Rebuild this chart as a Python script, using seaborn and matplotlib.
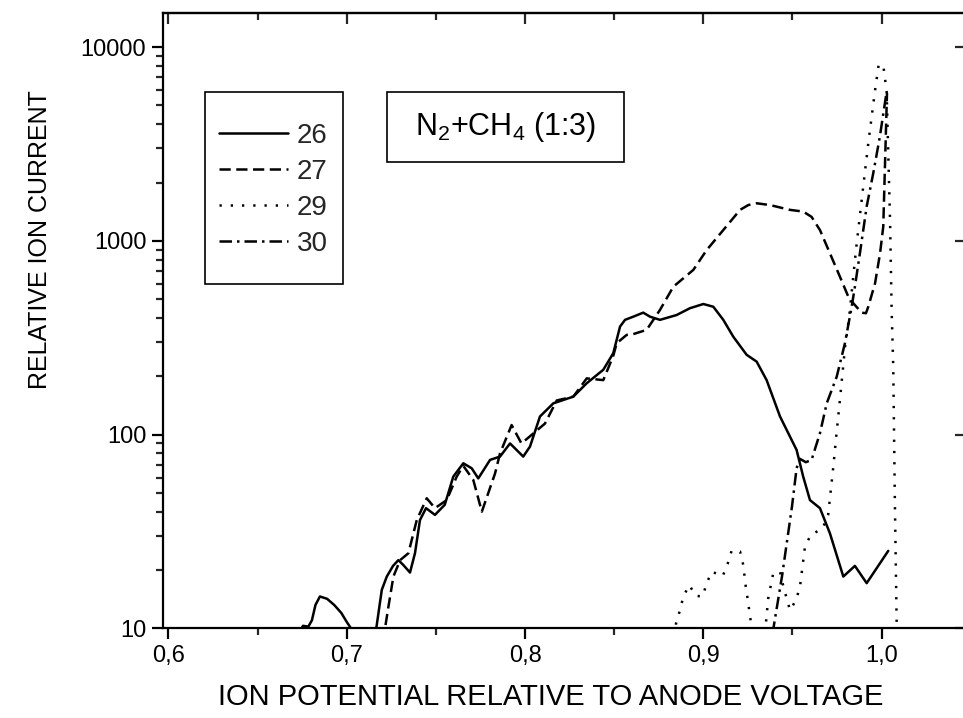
import numpy as np
import pandas as pd
import matplotlib
matplotlib.use("Agg")
import matplotlib.pyplot as plt
import seaborn as sns
from matplotlib.ticker import MultipleLocator, LogLocator, FuncFormatter, NullLocator, NullFormatter
from matplotlib.patches import Rectangle

# ---- data ----
x26 = [0.672, 0.6755, 0.6785, 0.6805, 0.6825, 0.685, 0.689, 0.693, 0.697, 0.700, 0.7024, 0.709,
       0.7166, 0.7197, 0.7225, 0.726, 0.729, 0.7318, 0.7355, 0.7383, 0.7411, 0.7445, 0.7495, 0.755,
       0.7598, 0.7654, 0.7701, 0.7738, 0.7804, 0.786, 0.7916, 0.799, 0.8028, 0.8084, 0.8159, 0.8271,
       0.8346, 0.8439, 0.8495, 0.8533, 0.8561, 0.8607, 0.8663, 0.8701, 0.8757, 0.885, 0.8925, 0.9,
       0.9056, 0.9112, 0.9168, 0.9243, 0.9299, 0.9355, 0.943, 0.9523, 0.956, 0.9598, 0.9654, 0.971,
       0.9785, 0.985, 0.9916, 1.0037]
y26 = [9.0, 10.3, 10.2, 11.0, 13.2, 14.6, 14.2, 13.2, 12.0, 10.8, 10.0, 6.0,
       10.0, 15.8, 18.5, 21.0, 22.5, 21.2, 19.4, 24.4, 36.2, 41.7, 38.5, 43.4,
       60.7, 71.1, 67.0, 59.4, 74, 77, 90, 77, 86.7, 124, 145, 157,
       184, 216, 263, 361, 391, 406, 426, 406, 391, 414, 449, 472,
       457, 391, 320, 258, 238, 191, 124, 83.3, 60.7, 45.9, 41.7, 30.9,
       18.5, 21.0, 17.1, 25.1]

x27 = [0.7195, 0.7215, 0.7234, 0.7262, 0.730, 0.7346, 0.7393, 0.7449, 0.7495, 0.7561, 0.7617,
       0.7654, 0.771, 0.7758, 0.7832, 0.786, 0.7925, 0.798, 0.8028, 0.8112, 0.8178, 0.8271, 0.8346,
       0.8439, 0.8495, 0.8514, 0.857, 0.8607, 0.8682, 0.8757, 0.8832, 0.8944, 0.9019, 0.9112, 0.9206,
       0.9252, 0.9299, 0.9374, 0.9486, 0.956, 0.9607, 0.9654, 0.971, 0.9766, 0.9813, 0.9841, 0.9888,
       0.9912, 0.9925, 0.9963, 0.9991, 1.0009, 1.0030]
y27 = [7.0, 10.0, 12.9, 18.5, 22.5, 24.4, 36.2, 46.9, 41.7, 45.9, 60.7,
       69.0, 58.3, 40.0, 63.0, 80.0, 112, 90, 98, 114, 150, 157, 195,
       191, 255, 296, 327, 330, 347, 440, 580, 708, 897, 1137, 1445,
       1530, 1563, 1530, 1445, 1416, 1330, 1137, 862, 653, 515, 476, 426,
       423, 457, 604, 862, 1184, 5800]

x29 = [0.8835, 0.8847, 0.8869, 0.8888, 0.8921, 0.8959, 0.8996, 0.9019, 0.9047, 0.9109, 0.9137,
       0.9159, 0.9206, 0.9224, 0.9238, 0.9252, 0.9262, 0.930, 0.935, 0.9364, 0.9392, 0.943, 0.9449,
       0.9486, 0.952, 0.9542, 0.957, 0.9602, 0.9669, 0.970, 0.9729, 0.9747, 0.9766, 0.9795, 0.9818,
       0.9856, 0.9888, 0.9925, 0.9962, 0.9983, 1.0009, 1.0028, 1.0037, 1.0047, 1.0056, 1.0065, 1.0074,
       1.0084, 1.0090]
y29 = [8.0, 10.6, 12.4, 14.6, 16.7, 14.7, 14.6, 17.1, 19.6, 18.6, 21.6,
       25.2, 24.9, 21.2, 16.4, 13.5, 11.5, 7.0, 10.4, 14.3, 19.2, 19.6, 16.4,
       12.4, 14.0, 16.4, 26.4, 30.3, 32.8, 38.5, 68.3, 101.6, 151, 285, 406,
       897, 1625, 3190, 5890, 8080, 8080, 5890, 2830, 1282, 440, 224, 46,
       10.9, 7.0]

x30 = [0.936, 0.9393, 0.9441, 0.9497, 0.9523, 0.9541, 0.9575, 0.9607, 0.9654, 0.9692, 0.9748,
       0.9794, 0.9832, 0.985, 0.9878, 0.9916, 0.9953, 0.999, 1.0018, 1.0028]
y30 = [7.0, 10.0, 18.5, 42.4, 67.0, 75.0, 72.0, 74.0, 101.6, 145, 199,
       296, 457, 580, 862, 1504, 2236, 3452, 5130, 5890]

series_names = ["26", "27", "29", "30"]
x_ticks = [0.6, 0.7, 0.8, 0.9, 1.0]
y_ticks = [10, 100, 1000, 10000]

frames = []
for name, xs, ys in zip(series_names, [x26, x27, x29, x30], [y26, y27, y29, y30]):
    assert len(xs) == len(ys), name
    frames.append(pd.DataFrame({"x": xs, "y": ys, "mass": name}))
df = pd.concat(frames, ignore_index=True)

# ---- style ----
sns.set_style("white")
plt.rcParams["font.family"] = ["Liberation Sans", "DejaVu Sans"]
plt.rcParams["mathtext.fontset"] = "custom"
plt.rcParams["mathtext.rm"] = "Liberation Sans"
plt.rcParams["mathtext.it"] = "Liberation Sans"
plt.rcParams["mathtext.sf"] = "Liberation Sans"

W, H = 963, 718
fig = plt.figure(figsize=(W / 100, H / 100), dpi=100)
fig.patch.set_facecolor("white")

ax_l, ax_r, ax_t, ax_b = 163, 966, 13, 628.3
ax = fig.add_axes([ax_l / W, (H - ax_b) / H, (ax_r - ax_l) / W, (ax_b - ax_t) / H])
ax.set_facecolor("white")

dashes = {"26": "", "27": (4.5, 2.2), "29": (0.9, 3.6), "30": (5.0, 2.0, 1.0, 2.0)}
sns.lineplot(data=df, x="x", y="y", style="mass", dashes=dashes, color="black",
             linewidth=1.8, estimator=None, sort=False, ax=ax, legend=True)

ax.set_yscale("log")
ax.set_xlim(0.597, 1.0473)
ax.set_ylim(10, 15000)

for s in ax.spines.values():
    s.set_linewidth(1.6)
    s.set_color("black")

ax.set_xticks(x_ticks)
ax.xaxis.set_minor_locator(MultipleLocator(0.05))
ax.xaxis.set_major_formatter(FuncFormatter(lambda v, p: f"{v:.1f}".replace(".", ",")))
ax.set_yticks(y_ticks)
ax.yaxis.set_major_formatter(FuncFormatter(lambda v, p: f"{v:.0f}"))
ax.yaxis.set_minor_locator(LogLocator(base=10, subs=np.arange(2, 10)))
ax.yaxis.set_minor_formatter(NullFormatter())
ax.tick_params(axis="both", which="major", direction="out", length=8, width=1.6,
               labelsize=17, pad=4, colors="black", bottom=True, left=True, top=False, right=False)
ax.tick_params(axis="both", which="minor", direction="out", length=5, width=1.6,
               bottom=True, left=True, top=False, right=False)
ax.set_xlabel("")
ax.set_ylabel("")

# top / right axes with inward ticks, no labels
secx = ax.secondary_xaxis("top")
secx.xaxis.set_major_locator(MultipleLocator(0.1))
secx.xaxis.set_minor_locator(MultipleLocator(0.05))
secx.tick_params(axis="x", which="major", direction="in", length=8, width=1.6, labeltop=False, top=True)
secx.tick_params(axis="x", which="minor", direction="in", length=5, width=1.6, top=True)
secx.spines["top"].set_linewidth(1.6)

secy = ax.secondary_yaxis("right")
secy.set_yticks(y_ticks)
secy.yaxis.set_minor_locator(NullLocator())
secy.tick_params(axis="y", which="major", direction="in", length=8, width=1.6, labelright=False, right=True)
secy.spines["right"].set_linewidth(1.6)

# axis titles
fig.text(551 / W, (H - 697) / H, "ION POTENTIAL RELATIVE TO ANODE VOLTAGE",
         ha="center", va="center", fontsize=21, color="black")
fig.text(40 / W, (H - 240) / H, "RELATIVE ION CURRENT", rotation=90,
         ha="center", va="center", fontsize=18, color="black")

# legend
handles, labels = ax.get_legend_handles_labels()
old = ax.get_legend()
if old is not None:
    old.remove()
leg = fig.legend(handles, labels, loc="upper left", bbox_to_anchor=(219 / W, (H - 123) / H),
                 frameon=False, fontsize=20, handlelength=2.5, handletextpad=0.3,
                 labelspacing=0.36, borderpad=0, borderaxespad=0)
for h in leg.legend_handles:
    h.set_linewidth(1.8)
    h.set_color("black")

fig.add_artist(Rectangle((205 / W, (H - 284) / H), 138 / W, 192 / H, transform=fig.transFigure,
                         fill=False, edgecolor="black", linewidth=1.2))
fig.add_artist(Rectangle((387 / W, (H - 162) / H), 237 / W, 70 / H, transform=fig.transFigure,
                         fill=False, edgecolor="black", linewidth=1.2))
fig.text(505.5 / W, (H - 127) / H, r"N$_2$+CH$_4$ (1:3)", ha="center", va="center",
         fontsize=22, color="black")

fig.savefig("out.png", dpi=100, facecolor="white")
